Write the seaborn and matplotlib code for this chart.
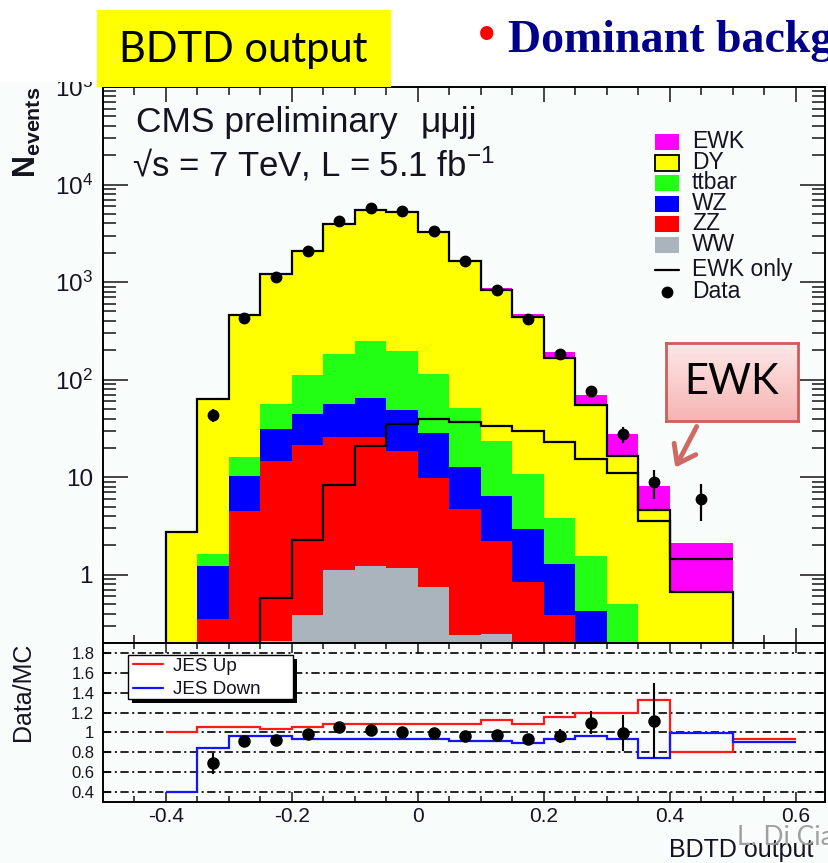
import numpy as np
import pandas as pd
import matplotlib
matplotlib.use("Agg")
import matplotlib.pyplot as plt
import seaborn as sns
from matplotlib.patches import Rectangle, FancyArrowPatch
from matplotlib.lines import Line2D
from matplotlib.ticker import FixedLocator, FixedFormatter, NullFormatter

# ---------------- data ----------------
edges = [-0.4, -0.35, -0.3, -0.25, -0.2, -0.15, -0.1, -0.05, 0.0, 0.05,
         0.1, 0.15, 0.2, 0.25, 0.3, 0.35, 0.4, 0.5]
ww    = [0, 0, 0, 0.21, 0.39, 1.12, 1.24, 1.17, 0.75, 0.24, 0.25, 0, 0, 0, 0, 0, 0]
zz    = [0, 0.35, 4.5, 14.4, 20.9, 24.9, 24.4, 17.3, 9.15, 4.46, 1.98, 0.85, 0.39, 0.1, 0, 0, 0]
wz    = [0, 0.89, 5.8, 16.3, 23.7, 30, 39.4, 30.2, 18.2, 8.1, 4.2, 2.08, 0.9, 0.33, 0, 0, 0]
ttbar = [0, 0.39, 5.9, 25.1, 68, 129, 182, 146, 85, 39, 17.2, 7.9, 2.5, 1.13, 0.5, 0.1, 0]
dy    = [2.77, 61.4, 439, 1160, 1957, 3765, 5243, 5075, 3177, 1611, 810, 427, 164, 53, 16.1, 4.5, 0.67]
ewk   = [0, 0, 0, 0.58, 2.28, 8.3, 20.8, 35, 40, 37, 33.3, 30, 23, 15.5, 11, 3.6, 1.44]
data  = [0, 43, 425, 1120, 2070, 4200, 5750, 5300, 3370, 1650, 840, 422, 185, 77, 27.5, 9, 6]

ratio_edges = edges + [0.6]
ratio     = [np.nan, 0.69, 0.916, 0.926, 0.984, 1.054, 1.027, 1.0, 0.994, 0.967,
             0.97, 0.933, 0.967, 1.10, 0.994, 1.118, np.nan, np.nan]
ratio_err = [np.nan, 0.105, 0.045, 0.028, 0.022, 0.017, 0.014, 0.014, 0.017, 0.024,
             0.033, 0.046, 0.072, 0.12, 0.185, 0.38, np.nan, np.nan]
jes_up   = [1.00, 1.055, 1.055, 1.037, 1.055, 1.085, 1.085, 1.085, 1.085, 1.085,
            1.125, 1.085, 1.16, 1.20, 1.20, 1.33, 0.80, 0.937]
jes_down = [0.405, 0.843, 0.96, 0.96, 0.937, 0.937, 0.937, 0.937, 0.937, 0.91,
            0.91, 0.893, 0.933, 0.96, 0.937, 0.742, 0.994, 0.90]

procs  = ["EWK", "DY", "ttbar", "WZ", "ZZ", "WW"]
colors = {"EWK": "#ff00ff", "DY": "#ffff00", "ttbar": "#22ff14",
          "WZ": "#0000ff", "ZZ": "#ff0000", "WW": "#aab4bd"}
main_yticks = [1, 10, 100, 1000, 1e4, 1e5]
main_ylabels = ["1", "10", "10$^{2}$", "10$^{3}$", "10$^{4}$", "10$^{5}$"]
xticks = [-0.4, -0.2, 0.0, 0.2, 0.4, 0.6]
xticklabels = ["-0.4", "-0.2", "0", "0.2", "0.4", "0.6"]
r_yticks = [0.4, 0.6, 0.8, 1.0, 1.2, 1.4, 1.6, 1.8]
r_ylabels = ["0.4", "0.6", "0.8", "1", "1.2", "1.4", "1.6", "1.8"]

# ---------------- style ----------------
sns.set_style("ticks")
plt.rcParams["font.family"] = ["Liberation Sans", "DejaVu Sans"]
plt.rcParams["mathtext.default"] = "regular"
plt.rcParams["lines.scale_dashes"] = False

W, H = 829, 863
fig = plt.figure(figsize=(W / 100, H / 100), dpi=100)
bg = "#f8fcfa"
fig.patch.set_facecolor(bg)


def fx(x):
    return x / W


def fy(y):
    return 1 - y / H


TXT = "#141420"
L, R = 102.7, 825.5
ax = fig.add_axes([fx(L), fy(643), (R - L) / W, (643 - 87) / H])
axr = fig.add_axes([fx(L), fy(802), (R - L) / W, (802 - 643) / H])
for a in (ax, axr):
    a.set_facecolor(bg)

# ---------------- stacked histogram via seaborn ----------------
edges_a = np.array(edges)
centers = (edges_a[:-1] + edges_a[1:]) / 2
vals = {"EWK": ewk, "DY": dy, "ttbar": ttbar, "WZ": wz, "ZZ": zz, "WW": ww}
df = pd.DataFrame({
    "x": np.tile(centers, len(procs)),
    "w": np.concatenate([np.asarray(vals[p], float) for p in procs]),
    "proc": np.repeat(procs, len(centers)),
})
sns.histplot(data=df, x="x", weights="w", hue="proc", hue_order=procs,
             multiple="stack", bins=list(edges), element="bars", palette=colors,
             alpha=1, linewidth=0, legend=False, ax=ax)
ax.set_yscale("log")

cum_dy = (np.array(ww) + np.array(zz) + np.array(wz) + np.array(ttbar)
          + np.array(dy))
ax.stairs(cum_dy, edges_a, baseline=1e-3, color="k", lw=1.6, zorder=4)
ax.stairs(np.array(ewk, float), edges_a, baseline=None, color="k", lw=1.6, zorder=4)

d = np.array(data, float)
m = d > 0
ax.errorbar(centers[m], d[m], yerr=np.sqrt(d[m]), fmt="o", color="k",
            ms=7.5, lw=1.6, capsize=0, zorder=6)

ax.set_xlim(-0.5, 0.647)
ax.set_ylim(0.2, 1e5)
ax.set_xlabel("")
ax.set_ylabel("")
ax.xaxis.set_major_locator(FixedLocator(xticks))
ax.xaxis.set_minor_locator(FixedLocator(np.arange(-0.45, 0.66, 0.05)))
ax.xaxis.set_major_formatter(NullFormatter())
ax.yaxis.set_major_locator(FixedLocator(main_yticks))
ax.yaxis.set_major_formatter(FixedFormatter(main_ylabels))
minors = [k * 10.0 ** e for e in range(-1, 5) for k in range(2, 10)]
ax.yaxis.set_minor_locator(FixedLocator(minors))
ax.yaxis.set_minor_formatter(NullFormatter())
ax.tick_params(axis="x", which="major", direction="in", length=11, width=1.2,
               top=True, bottom=True, labelbottom=False)
ax.tick_params(axis="x", which="minor", direction="in", length=6, width=1.2,
               top=True, bottom=True)
ax.tick_params(axis="y", which="major", direction="in", length=18, width=1.2,
               left=True, right=True, labelsize=17.5, pad=7, labelcolor=TXT)
ax.tick_params(axis="y", which="minor", direction="in", length=9.5, width=1.2,
               left=True, right=True)
for s in ax.spines.values():
    s.set_linewidth(1.4)
    s.set_color("k")
    s.set_visible(True)

# ---------------- ratio panel ----------------
for v in r_yticks:
    axr.axhline(v, color="k", lw=1.2, dashes=(6, 2.5, 1.5, 2.5), zorder=1)
re = np.array(ratio_edges)
axr.stairs(jes_up, re, baseline=None, color="#ff1a1a", lw=1.6, zorder=3)
axr.stairs(jes_down, re, baseline=None, color="#1414ff", lw=1.6, zorder=3)
rc = (re[:-1] + re[1:]) / 2
axr.errorbar(rc, ratio, yerr=ratio_err, fmt="o", color="k", ms=8, lw=1.5,
             capsize=0, zorder=5)
axr.set_xlim(-0.5, 0.647)
axr.set_ylim(0.3, 1.9)
axr.xaxis.set_major_locator(FixedLocator(xticks))
axr.xaxis.set_major_formatter(FixedFormatter(xticklabels))
axr.xaxis.set_minor_locator(FixedLocator(np.arange(-0.45, 0.66, 0.05)))
axr.yaxis.set_major_locator(FixedLocator(r_yticks))
axr.yaxis.set_major_formatter(FixedFormatter(r_ylabels))
axr.tick_params(axis="x", which="major", direction="in", length=7, width=1.2,
                top=True, bottom=True, labelsize=15, pad=3.5, labelcolor=TXT)
axr.tick_params(axis="x", which="minor", direction="in", length=4.5, width=1.2,
                top=True, bottom=True)
axr.tick_params(axis="y", which="major", direction="in", length=6, width=1.2,
                left=True, right=True, labelsize=12, pad=6, labelcolor=TXT)
for s in axr.spines.values():
    s.set_linewidth(1.4)
    s.set_color("k")
    s.set_visible(True)
axr.set_xlabel("")
axr.set_ylabel("")

# ---------------- figure-level decorations ----------------
# white slide area above the embedded plot (it also trims the 10^5 label)
fig.add_artist(Rectangle((0, fy(82)), 1, 82 / H, transform=fig.transFigure,
                         facecolor="white", edgecolor="none", zorder=9))
fig.add_artist(Rectangle((fx(97), fy(87)), (391 - 97) / W, (87 - 10) / H,
                         transform=fig.transFigure, facecolor="#ffff00",
                         edgecolor="none", zorder=10))
fig.text(fx(243), fy(50), "BDTD output", ha="center", va="center",
         fontsize=30, family=["Lato", "DejaVu Sans"], color="black", zorder=11)
fig.text(fx(487), fy(52), "\u2022", ha="center", va="baseline", fontsize=40,
         color="red", family=["Liberation Serif", "DejaVu Serif"], zorder=11)
fig.text(fx(508), fy(52), "Dominant background", ha="left", va="baseline",
         fontsize=33, fontweight="bold", color="#00008b",
         family=["Liberation Serif", "DejaVu Serif"], zorder=11)

# axis titles
fig.text(fx(27), fy(87), "N$_{events}$", rotation=90, ha="center", va="top",
         fontsize=22, fontweight="bold", color=TXT)
fig.text(fx(23), fy(643), "Data/MC", rotation=90, ha="center", va="top",
         fontsize=18, color=TXT)
fig.text(fx(813), fy(857), "BDTD output", ha="right", va="baseline",
         fontsize=18, color=TXT)
fig.text(fx(737), fy(845), "L. Di Ciaccio", ha="left", va="baseline",
         fontsize=19, color="#a0a0a0", family=["Lato", "DejaVu Sans"], zorder=12)

# CMS label
fig.text(fx(136), fy(131.7), "CMS preliminary", ha="left", va="baseline",
         fontsize=25.5, color=TXT)
fig.text(fx(421), fy(131.7), "\u03bc\u03bcjj", ha="left", va="baseline",
         fontsize=25.5, color=TXT)
fig.text(fx(132), fy(176.7), "\u221as = 7 TeV, L = 5.1 fb$^{-1}$", ha="left",
         va="baseline", fontsize=25, color=TXT)

# main legend (manual, ROOT style)
leg_rows = [("EWK", 142), ("DY", 163), ("ttbar", 183), ("WZ", 204),
            ("ZZ", 224), ("WW", 245)]
LEG_FS = 16.5
for name, yy in leg_rows:
    fig.add_artist(Rectangle((fx(655), fy(yy + 8)), 24 / W, 16 / H,
                             transform=fig.transFigure, facecolor=colors[name],
                             edgecolor="k" if name == "DY" else "none",
                             lw=1.3, zorder=12))
    fig.text(fx(692), fy(yy + 6), name, ha="left", va="baseline",
             fontsize=LEG_FS, color=TXT, zorder=12)
fig.add_artist(Line2D([fx(655), fx(679)], [fy(270), fy(270)],
                      transform=fig.transFigure, color="k", lw=1.6, zorder=12))
fig.text(fx(692), fy(276), "EWK only", ha="left", va="baseline",
         fontsize=LEG_FS, color=TXT, zorder=12)
fig.add_artist(Line2D([fx(667)], [fy(292)], transform=fig.transFigure,
                      marker="o", ms=7.5, color="k", zorder=12))
fig.text(fx(692), fy(298), "Data", ha="left", va="baseline",
         fontsize=LEG_FS, color=TXT, zorder=12)

# ratio legend with shadow
fig.add_artist(Rectangle((fx(132), fy(703)), (293 - 128) / W, (699 - 655) / H,
                         transform=fig.transFigure, facecolor="k",
                         edgecolor="none", zorder=12))
fig.add_artist(Rectangle((fx(128), fy(699)), (293 - 128) / W, (699 - 655) / H,
                         transform=fig.transFigure, facecolor="white",
                         edgecolor="k", lw=1.0, zorder=13))
fig.add_artist(Line2D([fx(133), fx(163)], [fy(664), fy(664)],
                      transform=fig.transFigure, color="#ff1a1a", lw=1.6, zorder=14))
fig.add_artist(Line2D([fx(133), fx(163)], [fy(688), fy(688)],
                      transform=fig.transFigure, color="#1414ff", lw=1.6, zorder=14))
fig.text(fx(173), fy(671), "JES Up", ha="left", va="baseline", fontsize=13.5,
         color=TXT, zorder=14)
fig.text(fx(173), fy(694), "JES Down", ha="left", va="baseline", fontsize=13.5,
         color=TXT, zorder=14)

# EWK callout
axc = fig.add_axes([fx(666), fy(421), (798 - 666) / W, (421 - 343) / H])
grad = np.linspace(0, 1, 64)[:, None]
top_c = np.array([253, 232, 232]) / 255
bot_c = np.array([246, 180, 178]) / 255
img = top_c[None, None, :] * (1 - grad[..., None]) + bot_c[None, None, :] * grad[..., None]
axc.imshow(np.repeat(img, 4, axis=1), aspect="auto", extent=(0, 1, 0, 1))
axc.set_xticks([])
axc.set_yticks([])
for s in axc.spines.values():
    s.set_color("#c9605b")
    s.set_linewidth(2)
    s.set_visible(True)
axc.text(0.5, 0.5, "EWK", ha="center", va="center", fontsize=30,
         family=["Lato", "DejaVu Sans"], color="black", transform=axc.transAxes)
fig.add_artist(FancyArrowPatch((fx(698), fy(424)), (fx(674), fy(470)),
                               transform=fig.transFigure,
                               arrowstyle="->,head_length=0.55,head_width=0.4",
                               mutation_scale=22, lw=3.5, color="#cd6a65",
                               zorder=15))

fig.savefig("out.png", dpi=100, facecolor=fig.get_facecolor())
